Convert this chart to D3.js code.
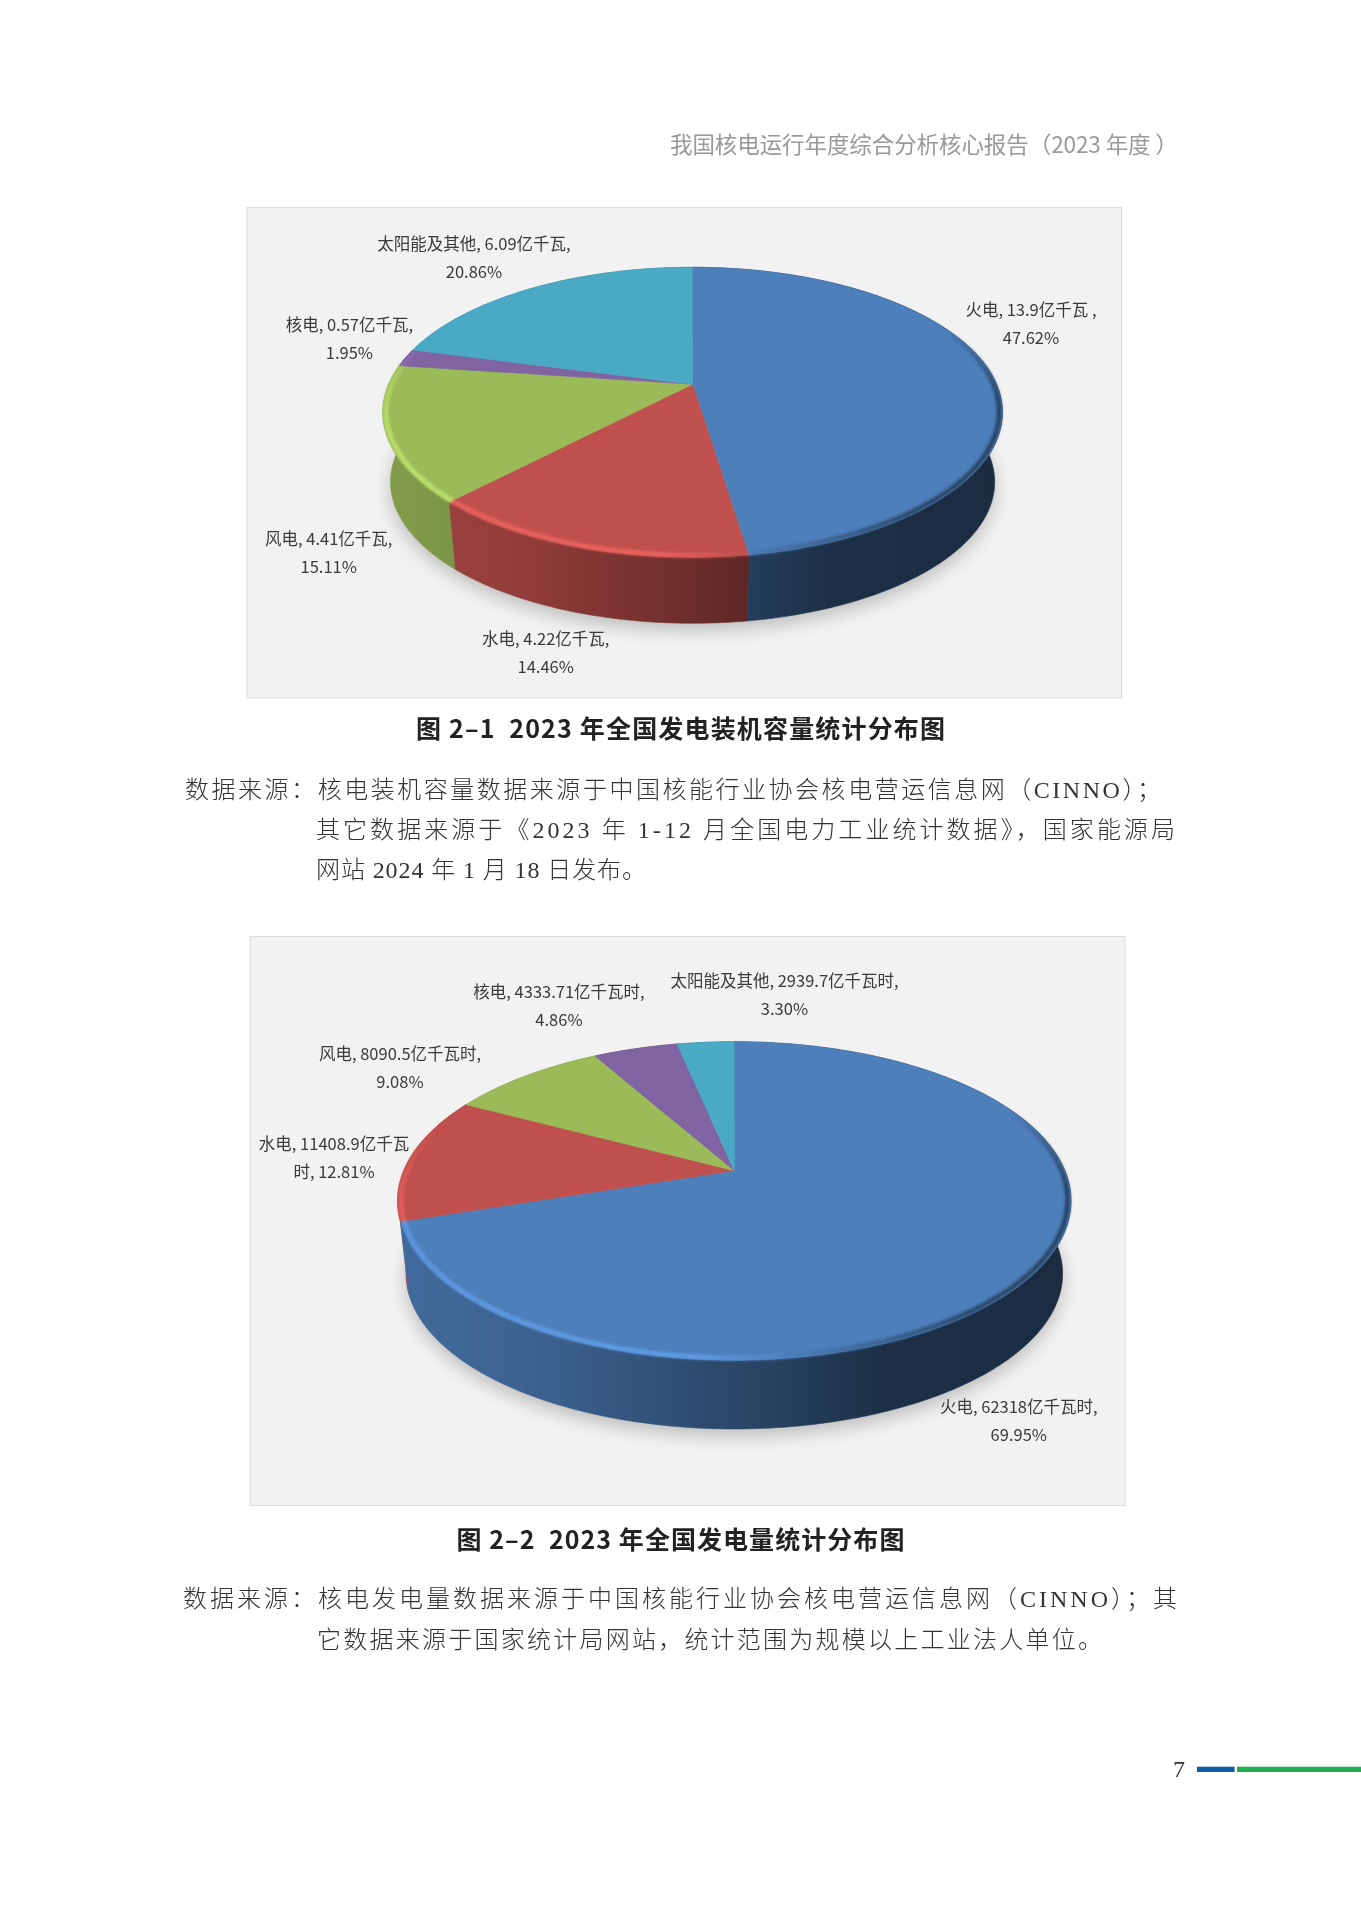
<!DOCTYPE html>
<html lang="zh">
<head>
<meta charset="utf-8">
<script src="https://cdn.jsdelivr.net/npm/d3@7/dist/d3.min.js"></script>
<style>
html,body{margin:0;padding:0;background:#fff}
svg{display:block}
.sans{font-family:"Noto Sans CJK SC","Noto Sans",sans-serif}
.serif{font-family:"Liberation Serif","Noto Sans CJK SC",serif}
</style>
</head>
<body>
<svg id="page" width="1361" height="1909" viewBox="0 0 1361 1909"></svg>
<script>
// ---- data ----
const categories = ["火电", "水电", "风电", "核电", "太阳能及其他"];
const capacityValues = [13.9, 4.22, 4.41, 0.57, 6.09];
const capacityPercents = ["47.62%", "14.46%", "15.11%", "1.95%", "20.86%"];
const generationValues = [62318, 11408.9, 8090.5, 4333.71, 2939.7];
const generationPercents = ["69.95%", "12.81%", "9.08%", "4.86%", "3.30%"];
const sliceColors = ["#4d7fbb", "#c0504d", "#9bbb59", "#8064a2", "#4aa9c4"];

// ---- layout (not data) ----
const shadeStops = [[0, .84], [.22, .76], [.5, .56], [.72, .38], [1, .35]];
const rimStops = [[0, 1.2], [.45, 1.24], [.66, .85], [.85, .55], [1, .5]];
const charts = [
  { id: "a", values: capacityValues, panel: [247, 207.5, 874.5, 490.5],
    cx: 692.6, cy: 384.3, B: 304, A: 139.6, k: .193, depth: 70.3, bottomScale: .975,
    labelLines: [
      [`${categories[0]}, ${capacityValues[0]}亿千瓦 ,`, capacityPercents[0]],
      [`${categories[1]}, ${capacityValues[1]}亿千瓦,`, capacityPercents[1]],
      [`${categories[2]}, ${capacityValues[2]}亿千瓦,`, capacityPercents[2]],
      [`${categories[3]}, ${capacityValues[3]}亿千瓦,`, capacityPercents[3]],
      [`${categories[4]}, ${capacityValues[4]}亿千瓦,`, capacityPercents[4]]],
    labelAt: [[1031, 309], [545.7, 638], [328.7, 538], [349.4, 324], [474, 243]] },
  { id: "b", values: generationValues, panel: [250, 936.5, 875, 569],
    cx: 734.3, cy: 1170.7, B: 330.6, A: 153.5, k: .19, depth: 73.5, bottomScale: .975,
    labelLines: [
      [`${categories[0]}, ${generationValues[0]}亿千瓦时,`, generationPercents[0]],
      [`${categories[1]}, ${generationValues[1]}亿千瓦`, `时, ${generationPercents[1]}`],
      [`${categories[2]}, ${generationValues[2]}亿千瓦时,`, generationPercents[2]],
      [`${categories[3]}, ${generationValues[3]}亿千瓦时,`, generationPercents[3]],
      [`${categories[4]}, ${generationValues[4]}亿千瓦时,`, generationPercents[4]]],
    labelAt: [[1018.8, 1406], [334, 1143], [400, 1053], [559, 991], [784.5, 980]] }
];
const captions = [
  { text: "图 2\u20131  2023 年全国发电装机容量统计分布图", x: 416, y: 727, len: 529 },
  { text: "图 2\u20132  2023 年全国发电量统计分布图", x: 456.4, y: 1537.5, len: 448 }
];
const headerText = "我国核电运行年度综合分析核心报告\uFF082023 年度 \uFF09";
const bodyLines = [
  { text: "数据来源\uFF1A核电装机容量数据来源于中国核能行业协会核电营运信息网\uFF08CINNO\uFF09\uFF1B", x: 185, y: 790, len: 976 },
  { text: "其它数据来源于《2023 年 1-12 月全国电力工业统计数据》\uFF0C国家能源局", x: 316, y: 830, len: 859 },
  { text: "网站 2024 年 1 月 18 日发布。", x: 316, y: 870, len: 330 },
  { text: "数据来源\uFF1A核电发电量数据来源于中国核能行业协会核电营运信息网\uFF08CINNO\uFF09\uFF1B其", x: 183, y: 1599, len: 994 },
  { text: "它数据来源于国家统计局网站\uFF0C统计范围为规模以上工业法人单位。", x: 317, y: 1640, len: 785 }
];

// ---- drawing ----
const svg = d3.select("#page");
const defs = svg.append("defs");
defs.append("filter").attr("id", "soft").attr("x", "-20%").attr("y", "-20%").attr("width", "140%").attr("height", "140%")
  .append("feGaussianBlur").attr("stdDeviation", 9);
defs.append("filter").attr("id", "rimBlur").attr("x", "-10%").attr("y", "-10%").attr("width", "120%").attr("height", "120%")
  .append("feGaussianBlur").attr("stdDeviation", 1.4);

const shade = (c, f) => { const r = d3.rgb(c); return d3.rgb(Math.min(255, r.r * f), Math.min(255, r.g * f), Math.min(255, r.b * f)).formatHex(); };
const pieGen = d3.pie().sort(null).value(d => d);
const closed = d3.line().curve(d3.curveLinearClosed);
const open = d3.line();

charts.forEach(ch => {
  const sx = d3.scaleLinear().domain([-1, 1]).range([ch.cx - ch.B, ch.cx + ch.B]);
  const sy = d3.scaleLinear().domain([-1, 1]).range([ch.cy - ch.A, ch.cy + ch.A]);
  // perspective projection of a point on the disc of radius 1
  const proj = (a, r, s, dy) => {
    const X = r * Math.sin(a), Y = -r * Math.cos(a), w = 1 - ch.k * Y;
    return [sx(s * X / w), sy(s * Y / w) + dy];
  };
  const sample = (a0, a1) => { const n = Math.max(2, Math.ceil((a1 - a0) / .01)); return d3.range(n + 1).map(i => a0 + (a1 - a0) * i / n); };
  const arcs = pieGen(ch.values);
  const g = svg.append("g");
  const [px, py, pw, ph] = ch.panel;
  g.append("rect").attr("x", px).attr("y", py).attr("width", pw).attr("height", ph)
    .attr("fill", "#f2f2f2").attr("stroke", "#dcdcdc").attr("stroke-width", 1);

  const extent = [ch.cx - ch.B * 1.02, ch.cx + ch.B * 1.02];
  const addGrad = (id, color, stops) => {
    const gr = defs.append("linearGradient").attr("id", id).attr("gradientUnits", "userSpaceOnUse")
      .attr("x1", extent[0]).attr("x2", extent[1]).attr("y1", 0).attr("y2", 0);
    stops.forEach(([o, f]) => gr.append("stop").attr("offset", o).attr("stop-color", shade(color, f)));
  };
  arcs.forEach((d, i) => {
    addGrad(`side-${ch.id}-${i}`, sliceColors[i], shadeStops);
    addGrad(`rim-${ch.id}-${i}`, sliceColors[i], rimStops);
  });

  // soft ground shadow
  g.append("path")
    .attr("d", closed(sample(0, 2 * Math.PI).map(a => proj(a, 1, ch.bottomScale, ch.depth + 7))))
    .attr("fill", "#000").attr("opacity", .22).attr("filter", "url(#soft)");

  // side walls, back to front
  const order = arcs.map((d, i) => i).sort((a, b) => {
    const m = d => -Math.cos((d.startAngle + d.endAngle) / 2);
    return m(arcs[b]) < m(arcs[a]) ? 1 : -1;
  });
  order.forEach(i => {
    const d = arcs[i];
    const as = sample(d.startAngle, d.endAngle);
    const top = as.map(a => proj(a, 1, 1, 0));
    const bot = as.map(a => proj(a, 1, ch.bottomScale, ch.depth)).reverse();
    g.append("path").attr("d", closed(top.concat(bot)))
      .attr("fill", `url(#side-${ch.id}-${i})`)
      .attr("stroke", `url(#side-${ch.id}-${i})`).attr("stroke-width", .6);
  });

  // top faces
  arcs.forEach((d, i) => {
    const pts = [proj(0, 0, 1, 0)].concat(sample(d.startAngle, d.endAngle).map(a => proj(a, 1, 1, 0)));
    g.append("path").attr("d", closed(pts)).attr("fill", sliceColors[i])
      .attr("stroke", sliceColors[i]).attr("stroke-width", .5);
  });

  // bevel highlight along the front rim: short segments that fade in and out at its ends
  const front = [Math.PI * .36, Math.PI * 1.6], ramp = .55, step = .04;
  const rimG = g.append("g").attr("filter", "url(#rimBlur)");
  arcs.forEach((d, i) => {
    const a0 = Math.max(d.startAngle, front[0]), a1 = Math.min(d.endAngle, front[1]);
    if (a1 <= a0) return;
    for (let a = a0; a < a1; a += step) {
      const b = Math.min(a + step + .005, a1), m = (a + b) / 2;
      const fade = Math.min(1, (m - front[0]) / ramp, (front[1] - m) / ramp);
      rimG.append("path").attr("d", open(sample(a, b).map(t => proj(t, .99, 1, 0))))
        .attr("fill", "none").attr("stroke", `url(#rim-${ch.id}-${i})`).attr("stroke-width", 4.6)
        .attr("opacity", fade);
    }
  });

  // data labels
  ch.labelLines.forEach((lines, i) => {
    const [lx, ly] = ch.labelAt[i];
    lines.forEach((t, j) => {
      g.append("text").attr("class", "sans").attr("x", lx).attr("y", ly + j * 27.6)
        .attr("text-anchor", "middle").attr("dominant-baseline", "central")
        .attr("font-size", 16.5).attr("fill", "#3a3a3a").text(t);
    });
  });
});

// header
svg.append("text").attr("class", "sans").attr("x", 670).attr("y", 142.5)
  .attr("dominant-baseline", "central").attr("font-size", 22.5).attr("font-weight", 400)
  .attr("fill", "#999").attr("textLength", 508).attr("lengthAdjust", "spacing")
  .text(headerText);

// captions
svg.selectAll("text.caption").data(captions).enter().append("text")
  .attr("class", "caption sans").attr("x", d => d.x).attr("y", d => d.y)
  .attr("dominant-baseline", "central").attr("font-size", 25).attr("font-weight", 700)
  .attr("fill", "#222").attr("textLength", d => d.len).attr("lengthAdjust", "spacing")
  .attr("xml:space", "preserve").style("white-space", "pre").text(d => d.text);

// source notes
svg.selectAll("text.note").data(bodyLines).enter().append("text")
  .attr("class", "note serif").attr("x", d => d.x).attr("y", d => d.y)
  .attr("dominant-baseline", "central").attr("font-size", 24).attr("font-weight", 300)
  .attr("fill", "#333").attr("textLength", d => d.len).attr("lengthAdjust", "spacing").text(d => d.text);

// page number and footer bars
svg.append("text").attr("class", "serif").attr("x", 1179).attr("y", 1769).attr("text-anchor", "middle")
  .attr("dominant-baseline", "central").attr("font-size", 24).attr("fill", "#333").text("7");
svg.append("rect").attr("x", 1197).attr("y", 1766.7).attr("width", 37.6).attr("height", 5.3).attr("fill", "#0f5ba7");
svg.append("rect").attr("x", 1237).attr("y", 1766.7).attr("width", 124).attr("height", 5.3).attr("fill", "#22ac54");
</script>
</body>
</html>
